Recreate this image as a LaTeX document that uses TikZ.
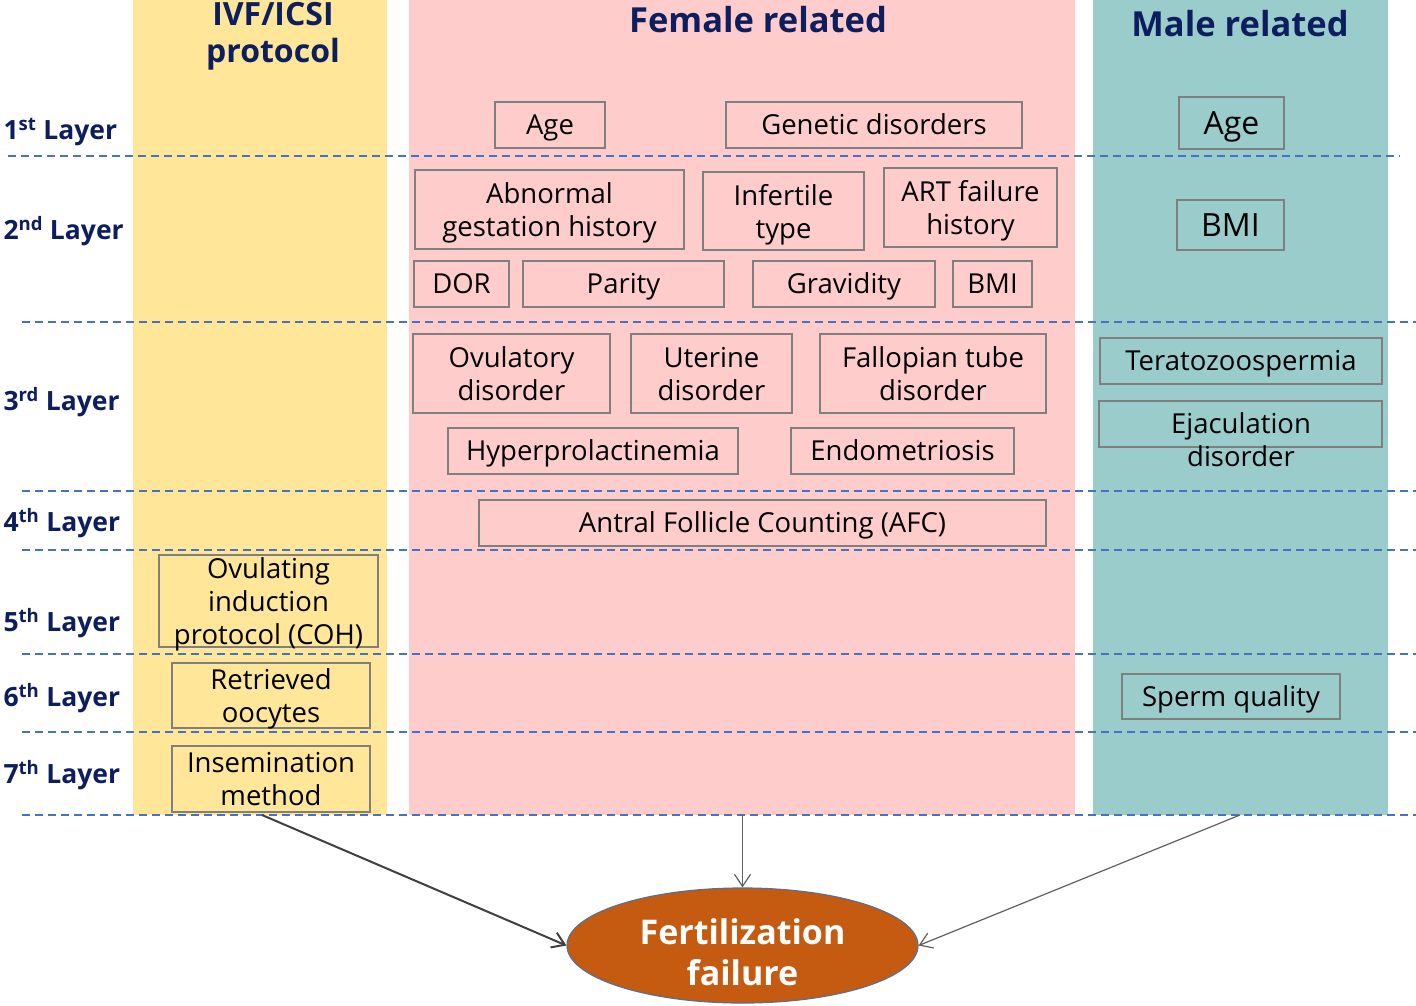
\documentclass[tikz,border=0pt]{standalone}
\usepackage{fontspec}
\setmainfont{Open Sans}
\usetikzlibrary{arrows.meta,shapes.geometric}
\definecolor{ivfcol}{HTML}{FFE699}
\definecolor{femcol}{HTML}{FFCCCC}
\definecolor{malecol}{HTML}{9ACCCC}
\definecolor{navy}{RGB}{13,30,95}
\definecolor{dashcol}{HTML}{4472C4}
\definecolor{boxline}{HTML}{7F7F7F}
\definecolor{failcol}{HTML}{C55A11}
\definecolor{failline}{HTML}{5B7090}
\definecolor{arrcol}{HTML}{606060}
\tikzset{
 box/.style={draw=boxline,line width=1.2pt,align=center,inner sep=0pt,minimum height=46,text depth=0pt,font=\fontsize{27.5}{33}\selectfont},
 one/.style={box,text height=19.6pt,text depth=0pt},
 bigbox/.style={box,text height=22.8pt,text depth=0pt,font=\fontsize{32}{36}\selectfont},
 layer/.style={anchor=west,text=navy,font=\fontsize{26.5}{30}\selectfont\bfseries},
 head/.style={text=navy,align=center,inner sep=0pt,font=\fontsize{34.5}{38}\selectfont\bfseries},
 sep/.style={draw=dashcol,line width=1.8pt,dash pattern=on 8pt off 5pt},
 arr/.style={-{Straight Barb[length=12pt,width=16pt]},line width=1.2pt,draw=arrcol}
}
\begin{document}
\begin{tikzpicture}[x=1pt,y=-1pt]
\useasboundingbox[fill=white] (0,0) rectangle (1416,1005);
\fill[ivfcol] (133,0) rectangle (387,815);
\fill[femcol] (409,0) rectangle (1075,815);
\fill[malecol] (1093,0) rectangle (1388,815);
\node at (273,36)[head,font=\fontsize{32}{37}\selectfont\bfseries] (hivf){IVF/ICSI\\protocol};
\node at (758,20)[head] (hfem){Female related};
\node at (1240,24)[head] (hmale){Male related};
\draw[sep] (8,156) -- (1400,156);
\draw[sep] (22,322) -- (1416,322);
\draw[sep] (22,491) -- (1416,491);
\draw[sep] (22,550) -- (1416,550);
\draw[sep] (22,654) -- (1416,654);
\draw[sep] (22,732) -- (1416,732);
\draw[sep] (22,815) -- (1416,815);
\node at (0,132)[layer] (l1){1\textsuperscript{st} Layer};
\node at (0,231)[layer] (l2){2\textsuperscript{nd} Layer};
\node at (0,402)[layer] (l3){3\textsuperscript{rd} Layer};
\node at (0,523)[layer] (l4){4\textsuperscript{th} Layer};
\node at (0,623)[layer] (l5){5\textsuperscript{th} Layer};
\node at (0,698)[layer] (l6){6\textsuperscript{th} Layer};
\node at (0,775)[layer] (l7){7\textsuperscript{th} Layer};
\node at (550,125)[one,minimum width=110] (fage){Age};
\node at (874,125)[one,minimum width=296] (fgen){Genetic disorders};
\node at (549.5,209.5)[box,minimum width=269,minimum height=79] (fabn){Abnormal\\gestation history};
\node at (783.5,211)[box,minimum width=161,minimum height=78] (finf){Infertile\\type};
\node at (970.5,207.5)[box,minimum width=173,minimum height=79] (fart){ART failure\\history};
\node at (461.5,284)[one,minimum width=95] (fdor){DOR};
\node at (623.5,284)[one,minimum width=201] (fpar){Parity};
\node at (844,284)[one,minimum width=182] (fgra){Gravidity};
\node at (992.5,284)[one,minimum width=79] (fbmi){BMI};
\node at (511.5,373.5)[box,minimum width=197,minimum height=79] (fovu){Ovulatory\\disorder};
\node at (711.5,373.5)[box,minimum width=161,minimum height=79] (fute){Uterine\\disorder};
\node at (933,373.5)[box,minimum width=226,minimum height=79] (ffal){Fallopian tube\\disorder};
\node at (593,451)[one,minimum width=290] (fhyp){Hyperprolactinemia};
\node at (902.5,451)[one,minimum width=223] (fend){Endometriosis};
\node at (762.5,523)[one,minimum width=567] (fafc){Antral Follicle Counting (AFC)};
\node at (1231.5,123)[bigbox,minimum width=105,minimum height=52] (mage){Age};
\node at (1230.5,225)[bigbox,minimum width=107,minimum height=50] (mbmi){BMI};
\node at (1241,361)[one,minimum width=282] (mter){Teratozoospermia};
\node at (1240.5,424)[box,minimum width=283] (mejb){};
\node at (1241,440)[box,draw=none] (mej){Ejaculation\\disorder};
\node at (1231,696.5)[one,minimum width=218,minimum height=45] (msperm){Sperm quality};
\node at (268.5,601)[box,minimum width=219,minimum height=92] (icoh){Ovulating\\induction\\protocol (COH)};
\node at (271,695.5)[box,minimum width=198,minimum height=65] (iret){Retrieved\\oocytes};
\node at (271,779)[box,minimum width=198,minimum height=66] (iins){Insemination\\method};
\node at (742.5,945.5)[ellipse,fill=failcol,draw=failline,line width=1.2pt,minimum width=351,minimum height=113,inner sep=0pt,text=white,align=center,font=\fontsize{34}{41}\selectfont\bfseries] (fail){\rule{0pt}{40pt}Fertilization\\failure};
\coordinate (ivfout) at (262,815);
\coordinate (femout) at (742.5,815);
\coordinate (maleout) at (1240,815);
\draw[arr,line width=2pt,draw=black!75] (ivfout) -- (fail.west);
\draw[arr] (femout) -- (fail.north);
\draw[arr] (maleout) -- (fail.east);
\end{tikzpicture}
\end{document}
